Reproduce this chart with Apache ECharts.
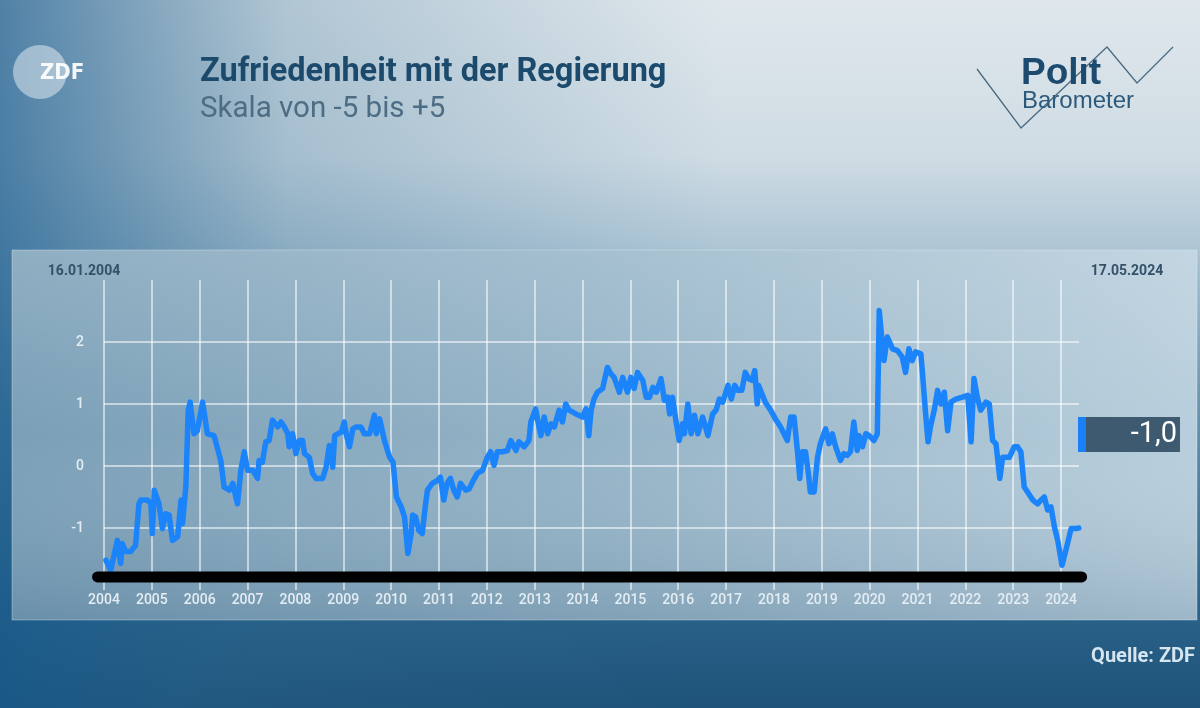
<!DOCTYPE html>
<html>
<head>
<meta charset="utf-8">
<script src="https://cdn.jsdelivr.net/npm/echarts@6/dist/echarts.min.js"></script>
<style>
html,body{margin:0;padding:0;width:1200px;height:708px;overflow:hidden;background:#2a628a;}
#chart{width:1200px;height:708px;}
</style>
</head>
<body>
<div id="chart"></div>
<script>
// ---- data (decimal year, satisfaction score on -5..+5 scale) ----
const years = [
2004.04,2004.14,2004.28,2004.35,2004.38,2004.45,2004.56,2004.66,2004.73,2004.77,2004.91,2004.98,
2005.01,2005.05,2005.15,2005.22,2005.29,2005.36,2005.43,2005.54,2005.61,2005.64,2005.71,2005.76,2005.80,2005.88,2005.95,
2006.06,2006.16,2006.30,2006.44,2006.51,2006.62,2006.69,2006.79,2006.86,2006.93,
2007.00,2007.11,2007.21,2007.24,2007.31,2007.38,2007.45,2007.52,2007.63,2007.70,2007.77,2007.84,2007.87,2007.94,
2008.01,2008.08,2008.15,2008.19,2008.29,2008.36,2008.43,2008.57,2008.64,2008.71,2008.78,2008.82,2008.96,
2009.02,2009.06,2009.13,2009.20,2009.27,2009.37,2009.44,2009.55,2009.65,2009.69,2009.76,2009.86,2009.97,
2010.04,2010.11,2010.21,2010.28,2010.35,2010.42,2010.45,2010.51,2010.58,2010.65,2010.72,2010.76,2010.86,2010.97,
2011.03,2011.10,2011.17,2011.24,2011.31,2011.38,2011.45,2011.56,2011.63,2011.70,2011.80,2011.91,
2012.01,2012.08,2012.15,2012.22,2012.33,2012.43,2012.50,2012.61,2012.67,2012.78,2012.88,2012.92,
2013.02,2013.09,2013.13,2013.20,2013.27,2013.34,2013.41,2013.51,2013.58,2013.65,2013.72,2013.86,
2014.00,2014.07,2014.13,2014.18,2014.24,2014.31,2014.42,2014.52,2014.59,2014.66,2014.77,2014.84,2014.94,
2015.01,2015.08,2015.15,2015.26,2015.33,2015.40,2015.47,2015.54,2015.64,2015.71,2015.78,2015.82,2015.88,2015.95,
2016.02,2016.09,2016.13,2016.20,2016.27,2016.34,2016.41,2016.51,2016.62,2016.72,2016.79,2016.86,2016.93,
2017.04,2017.11,2017.18,2017.25,2017.33,2017.40,2017.47,2017.54,2017.60,2017.65,2017.68,2017.75,2017.82,2017.93,
2018.03,2018.14,2018.28,2018.35,2018.42,2018.49,2018.54,2018.59,2018.66,2018.73,2018.76,2018.84,2018.91,2018.97,
2019.08,2019.15,2019.22,2019.29,2019.39,2019.46,2019.53,2019.60,2019.67,2019.74,2019.78,2019.85,2019.92,2019.99,
2020.09,2020.16,2020.20,2020.25,2020.30,2020.37,2020.48,2020.58,2020.68,2020.75,2020.82,2020.89,2020.96,
2021.07,2021.10,2021.17,2021.22,2021.27,2021.35,2021.42,2021.49,2021.56,2021.63,2021.70,2021.80,2021.94,
2022.05,2022.12,2022.18,2022.25,2022.32,2022.43,2022.50,2022.57,2022.64,2022.72,2022.78,2022.92,
2023.02,2023.09,2023.16,2023.23,2023.30,2023.41,2023.51,2023.58,2023.65,2023.72,2023.79,2023.86,2023.93,
2024.02,2024.10,2024.21,2024.31,2024.37
];
const scores = [
-1.52,-1.68,-1.20,-1.57,-1.25,-1.38,-1.38,-1.28,-0.61,-0.55,-0.55,-0.61,
-1.09,-0.39,-0.61,-1.01,-0.77,-0.79,-1.20,-1.14,-0.55,-0.93,-0.34,0.90,1.03,0.52,0.57,
1.03,0.52,0.49,0.09,-0.34,-0.39,-0.28,-0.61,-0.07,0.23,
-0.07,-0.07,-0.20,0.09,0.06,0.39,0.41,0.74,0.63,0.71,0.63,0.52,0.31,0.52,
0.20,0.41,0.41,0.20,0.14,-0.12,-0.20,-0.20,-0.02,0.33,-0.02,0.49,0.55,
0.71,0.52,0.31,0.60,0.63,0.63,0.52,0.52,0.82,0.52,0.76,0.41,0.14,
0.06,-0.50,-0.66,-0.82,-1.41,-1.09,-0.79,-0.82,-1.04,-1.09,-0.61,-0.39,-0.28,-0.23,
-0.18,-0.55,-0.28,-0.20,-0.39,-0.50,-0.28,-0.39,-0.37,-0.26,-0.12,-0.07,
0.14,0.23,0.01,0.23,0.23,0.25,0.41,0.25,0.39,0.31,0.41,0.71,
0.92,0.63,0.49,0.79,0.52,0.68,0.63,0.90,0.71,1.00,0.90,0.84,
0.79,0.92,0.49,0.90,1.08,1.19,1.25,1.59,1.49,1.43,1.19,1.43,1.19,
1.43,1.25,1.51,1.38,1.11,1.11,1.27,1.19,1.41,1.06,1.11,0.84,1.11,0.74,
0.41,0.68,0.52,1.00,0.52,0.82,0.52,0.79,0.49,0.84,0.90,1.08,1.03,
1.30,1.08,1.30,1.22,1.22,1.51,1.41,1.38,1.54,1.00,1.30,1.16,1.03,0.90,
0.76,0.63,0.41,0.79,0.79,0.25,-0.20,0.23,0.23,-0.18,-0.42,-0.42,0.14,0.36,
0.60,0.36,0.52,0.31,0.09,0.20,0.17,0.23,0.71,0.25,0.49,0.31,0.52,0.49,
0.41,0.52,2.51,2.08,1.70,2.08,1.89,1.86,1.76,1.51,1.89,1.70,1.84,
1.81,1.54,0.84,0.39,0.63,0.90,1.22,1.00,1.19,0.57,1.03,1.08,1.11,
1.14,0.39,1.41,1.11,0.90,1.03,1.00,0.41,0.36,-0.20,0.14,0.14,
0.31,0.31,0.23,-0.34,-0.42,-0.55,-0.61,-0.55,-0.50,-0.71,-0.66,-0.98,-1.20,
-1.60,-1.36,-1.01,-1.01,-1.00
];
const yTicks = [-1, 0, 1, 2];
const firstDateLabel = '16.01.2004';
const lastDateLabel = '17.05.2024';
const currentValueLabel = '-1,0';
const titleText = 'Zufriedenheit mit der Regierung';
const subtitleText = 'Skala von -5 bis +5';
const sourceText = 'Quelle: ZDF';

const chart = echarts.init(document.getElementById('chart'), null, {renderer: 'canvas'});

const lin = (x, y, x2, y2, stops) => ({type: 'linear', x, y, x2, y2,
  colorStops: stops.map(s => ({offset: s[0], color: s[1]}))});

const option = {
  backgroundColor: 'transparent',
  animation: false,
  grid: {left: 104, right: 121, top: 280, bottom: 118, containLabel: false},
  xAxis: {
    type: 'value', min: 2004, max: 2024.375, interval: 1,
    axisLine: {show: false}, axisTick: {show: false},
    axisLabel: {
      color: '#e4edf3', fontSize: 14, fontFamily: 'Roboto', fontWeight: 500, margin: 3,
      showMaxLabel: false,
      formatter: v => (Math.abs(v - Math.round(v)) < 1e-6 ? String(Math.round(v)) : '')
    },
    splitLine: {show: true, showMaxLine: false, lineStyle: {color: 'rgba(255,255,255,0.72)', width: 1.5}}
  },
  yAxis: {
    type: 'value', min: -2, max: 3, interval: 1,
    axisLine: {show: false}, axisTick: {show: false},
    axisLabel: {
      color: '#e4edf3', fontSize: 14, fontFamily: 'Roboto', fontWeight: 500, margin: 20,
      showMinLabel: false, showMaxLabel: false,
      formatter: v => (yTicks.indexOf(v) >= 0 ? String(v) : '')
    },
    splitLine: {show: true, showMinLine: false, showMaxLine: false,
      lineStyle: {color: 'rgba(255,255,255,0.72)', width: 1.5}}
  },
  series: [{
    type: 'line',
    data: years.map((y, i) => [y, scores[i]]),
    showSymbol: false,
    clip: false,
    lineStyle: {color: '#1b84fb', width: 5.5, join: 'round', cap: 'round'},
    z: 3
  }],
  graphic: [
    // page background
    {type: 'rect', z: -20, silent: true, shape: {x: 0, y: 0, width: 1200, height: 708},
      style: {fill: lin(0, 0, 0, 1, [[0, '#dfe7ec'], [0.22, '#cfdce4'], [0.34, '#b0c7d6'], [0.55, '#6f98b3'], [0.86, '#2a6289'], [1, '#1f5379']])}},
    {type: 'rect', z: -19, silent: true, shape: {x: 0, y: 0, width: 720, height: 708},
      style: {fill: lin(0, 0, 1, 0, [[0, 'rgba(24,90,140,0.72)'], [0.4, 'rgba(40,100,140,0.25)'], [1, 'rgba(40,100,140,0)']])}},
    // chart panel
    {type: 'rect', z: -18, silent: true, shape: {x: 12, y: 250, width: 1185, height: 370},
      style: {fill: lin(0, 0, 1, 0, [[0, '#7a9fb7'], [0.5, '#95b4c7'], [1, '#b8cedc']])}},
    {type: 'rect', z: -17, silent: true, shape: {x: 12, y: 250, width: 1185, height: 370},
      style: {fill: lin(0, 0, 0, 1, [[0, 'rgba(255,255,255,0.16)'], [0.5, 'rgba(255,255,255,0)'], [1, 'rgba(20,60,95,0.16)']]),
        stroke: 'rgba(230,240,246,0.35)', lineWidth: 1}},
    // title
    {type: 'text', z: 10, x: 200, y: 73, style: {text: titleText, fill: '#1c4a6c',
      font: 'bold 32.5px Roboto', verticalAlign: 'middle'}},
    {type: 'text', z: 10, x: 200, y: 110, style: {text: subtitleText, fill: '#4d6d84',
      font: '29.5px Roboto', verticalAlign: 'middle'}},
    // ZDF logo
    {type: 'circle', z: 10, shape: {cx: 40, cy: 72, r: 27}, style: {fill: 'rgba(235,242,246,0.5)'}},
    {type: 'text', z: 11, x: 40, y: 73, style: {text: 'ZDF', fill: 'rgba(255,255,255,0.92)', font: 'bold 22px "DejaVu Sans Condensed"', verticalAlign: 'middle'}},
    // Politbarometer logo
    {type: 'polyline', z: 10, shape: {points: [[977, 69], [1021, 128], [1107, 47], [1137, 83], [1173, 47]]},
      style: {stroke: '#4b6b82', lineWidth: 1.3, fill: null}},
    {type: 'text', z: 11, x: 1021, y: 74, style: {text: 'Polit', fill: '#1d4b70', font: 'bold 37px "Liberation Sans"', verticalAlign: 'middle'}},
    {type: 'text', z: 11, x: 1022, y: 101, style: {text: 'Barometer', fill: '#2c5a7d', font: '24px "Liberation Sans"', verticalAlign: 'middle'}},
    // date labels
    {type: 'text', z: 10, x: 84, y: 271, style: {text: firstDateLabel, fill: '#34516a', font: 'bold 14px Roboto',
      align: 'center', verticalAlign: 'middle'}},
    {type: 'text', z: 10, x: 1127, y: 271, style: {text: lastDateLabel, fill: '#34516a', font: 'bold 14px Roboto',
      align: 'center', verticalAlign: 'middle'}},
    // current value box
    {type: 'rect', z: 10, shape: {x: 1078, y: 417, width: 102, height: 35}, style: {fill: '#3d5a71'}},
    {type: 'rect', z: 11, shape: {x: 1078, y: 417, width: 8, height: 35}, style: {fill: '#1a80f8'}},
    {type: 'text', z: 12, x: 1177, y: 435, style: {text: currentValueLabel, fill: '#ffffff', font: '29px Roboto',
      align: 'right', verticalAlign: 'middle'}},
    // source
    {type: 'text', z: 10, x: 1195, y: 657, style: {text: sourceText, fill: '#d6e6f0', font: 'bold 20px Roboto',
      align: 'right', verticalAlign: 'middle'}}
  ]
};
chart.setOption(option);

// black baseline bar, positioned through the chart's own scales
const p0 = chart.convertToPixel({gridIndex: 0}, [2003.865, -1.79]);
const p1 = chart.convertToPixel({gridIndex: 0}, [2024.43, -1.79]);
const g = option.graphic.slice();
g.push({type: 'line', z: 20, shape: {x1: p0[0], y1: p0[1], x2: p1[0], y2: p1[1]},
  style: {stroke: '#000000', lineWidth: 11, lineCap: 'round'}});
chart.setOption({graphic: g}, {replaceMerge: ['graphic']});
</script>
</body>
</html>
